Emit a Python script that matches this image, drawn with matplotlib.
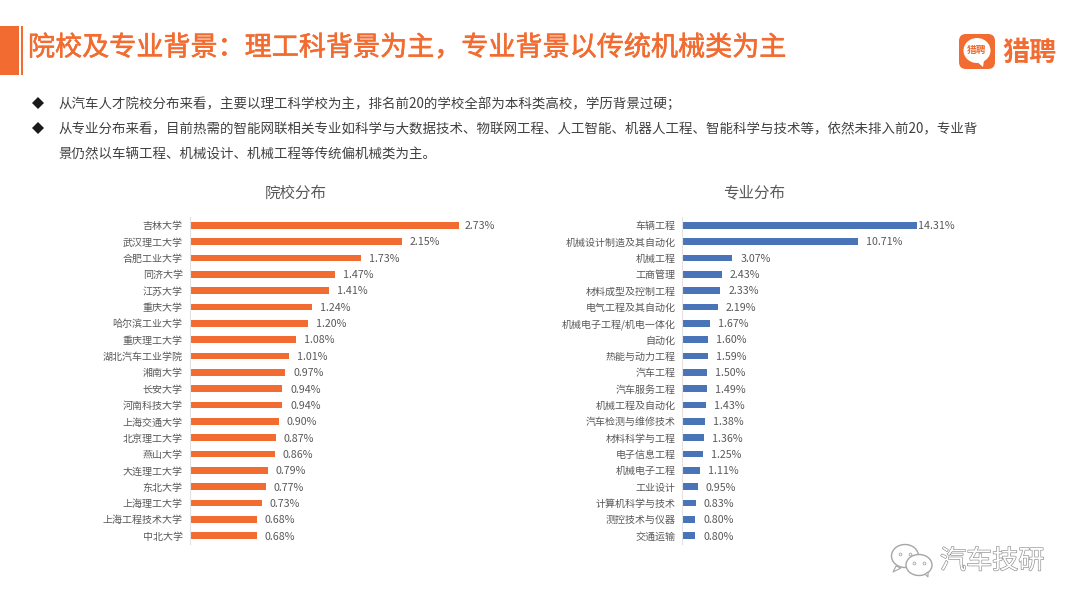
import matplotlib
matplotlib.use("Agg")
import matplotlib.pyplot as plt
import matplotlib.patheffects as pe
from matplotlib.patches import Rectangle, FancyBboxPatch, Ellipse, Polygon

plt.rcParams["font.family"] = ["Noto Sans CJK SC", "DejaVu Sans"]

ORANGE = "#F26B30"
BLUE = "#4A74B8"
LABEL = "#595959"
BODY = "#404040"

# full-width punctuation, written as escapes so it cannot get normalised to ASCII
COLON, COMMA, SEMI = "\uff1a", "\uff0c", "\uff1b"

schools = ["吉林大学", "武汉理工大学", "合肥工业大学", "同济大学", "江苏大学", "重庆大学",
           "哈尔滨工业大学", "重庆理工大学", "湖北汽车工业学院", "湘南大学", "长安大学",
           "河南科技大学", "上海交通大学", "北京理工大学", "燕山大学", "大连理工大学",
           "东北大学", "上海理工大学", "上海工程技术大学", "中北大学"]
school_share = [2.73, 2.15, 1.73, 1.47, 1.41, 1.24, 1.20, 1.08, 1.01, 0.97,
                0.94, 0.94, 0.90, 0.87, 0.86, 0.79, 0.77, 0.73, 0.68, 0.68]

majors = ["车辆工程", "机械设计制造及其自动化", "机械工程", "工商管理", "材料成型及控制工程",
          "电气工程及其自动化", "机械电子工程/机电一体化", "自动化", "热能与动力工程", "汽车工程",
          "汽车服务工程", "机械工程及自动化", "汽车检测与维修技术", "材料科学与工程", "电子信息工程",
          "机械电子工程", "工业设计", "计算机科学与技术", "测控技术与仪器", "交通运输"]
major_share = [14.31, 10.71, 3.07, 2.43, 2.33, 2.19, 1.67, 1.60, 1.59, 1.50,
               1.49, 1.43, 1.38, 1.36, 1.25, 1.11, 0.95, 0.83, 0.80, 0.80]

title = f"院校及专业背景{COLON}理工科背景为主{COMMA}专业背景以传统机械类为主"
bullets = [
    f"从汽车人才院校分布来看{COMMA}主要以理工科学校为主{COMMA}排名前20的学校全部为本科类高校{COMMA}学历背景过硬{SEMI}",
    f"从专业分布来看{COMMA}目前热需的智能网联相关专业如科学与大数据技术、物联网工程、人工智能、机器人工程、智能科学与技术等{COMMA}依然未排入前20{COMMA}专业背",
    "景仍然以车辆工程、机械设计、机械工程等传统偏机械类为主。",
]

W, H = 1080, 608
fig = plt.figure(figsize=(W / 100, H / 100), dpi=100, facecolor="white")

# full-figure overlay in pixel coordinates for the slide furniture
page = fig.add_axes([0, 0, 1, 1])
page.set_xlim(0, W)
page.set_ylim(H, 0)
page.axis("off")


def bar_panel(x0, px_per_unit, names, values, color, first_offset):
    top, bottom = 217.1, 543.9
    right = 1070
    ax = fig.add_axes([x0 / W, 1 - bottom / H, (right - x0) / W, (bottom - top) / H])
    ax.patch.set_alpha(0)
    ax.barh(range(len(values)), values, height=0.4, color=color)
    ax.set_xlim(0, (right - x0) / px_per_unit)
    ax.set_ylim(len(values) - 0.5, -0.5)
    ax.set_yticks(range(len(values)), names, fontsize=7.2, color=LABEL)
    ax.tick_params(axis="y", length=0, pad=5)
    ax.xaxis.set_visible(False)
    for side in ["top", "right", "bottom"]:
        ax.spines[side].set_visible(False)
    ax.spines["left"].set_color("#E3E3E3")
    ax.spines["left"].set_linewidth(0.8)
    for i, v in enumerate(values):
        off = first_offset if i == 0 else 8
        ax.annotate(f"{v:.2f}%", (v, i), xytext=(off * 0.72, -0.6), textcoords="offset points",
                    va="center", ha="left", fontsize=7.7, color=LABEL)


bar_panel(189.6, 98.8, schools, school_share, ORANGE, 5)
bar_panel(682.2, 16.38, majors, major_share, BLUE, 1)

# title band
page.add_patch(Rectangle((0, 26), 19, 49, color=ORANGE, lw=0))
page.add_patch(Rectangle((20.5, 26), 2.5, 49, color=ORANGE, lw=0))
page.text(28, 48, title, fontsize=19.5, color=ORANGE, va="center", ha="left", fontweight="medium",
          path_effects=[pe.withStroke(linewidth=0.4, foreground=ORANGE)])

# bullet text
for y, line in zip([104, 129, 154], bullets):
    page.text(58, y, line, fontsize=9.7, color=BODY, va="center", ha="left")
for y in [103, 128]:
    page.plot([38], [y], marker="D", ms=6, color="#1A1A1A", mew=0)

page.text(296, 193.5, "院校分布", fontsize=11.2, color=LABEL, va="center", ha="center")
page.text(754, 193.5, "专业分布", fontsize=11.2, color=LABEL, va="center", ha="center")

# logo
page.add_patch(FancyBboxPatch((963, 38), 28, 27, boxstyle="round,pad=4,rounding_size=7",
                              fc=ORANGE, ec="none"))
page.add_patch(Ellipse((977, 50.5), 27, 25, fc="white", ec="none"))
page.add_patch(Polygon([[975, 60], [984, 60], [983, 67]], fc="white", ec="none"))
page.text(977, 50.5, "猎聘", fontsize=7, color=ORANGE, va="center", ha="center", fontweight="bold")
page.text(1002, 53, "猎聘", fontsize=19.5, color=ORANGE, va="center", ha="left", fontweight="bold")

# watermark: two chat bubbles and the account name
WM = "#A6A6A6"
for cx, cy, w, h in [(905, 556, 27, 23), (919, 565, 26, 21)]:
    page.add_patch(Ellipse((cx, cy), w, h, fc="white", ec=WM, lw=1.0))
    page.plot([cx - 5, cx + 5], [cy - 2, cy - 2], ls="none", marker="o", ms=2, mfc="white", mec=WM, mew=0.6)
page.add_patch(Polygon([[896, 566], [893, 572], [901, 568]], fc="white", ec=WM, lw=0.8))
page.add_patch(Polygon([[925, 574], [928, 577], [928, 572]], fc="white", ec=WM, lw=0.8))
page.text(940, 561, "汽车技研", fontsize=18.8, color="white", va="center", ha="left",
          path_effects=[pe.withStroke(linewidth=0.9, foreground="#8C8C8C")])

fig.savefig("out.png", dpi=100, facecolor="white")
